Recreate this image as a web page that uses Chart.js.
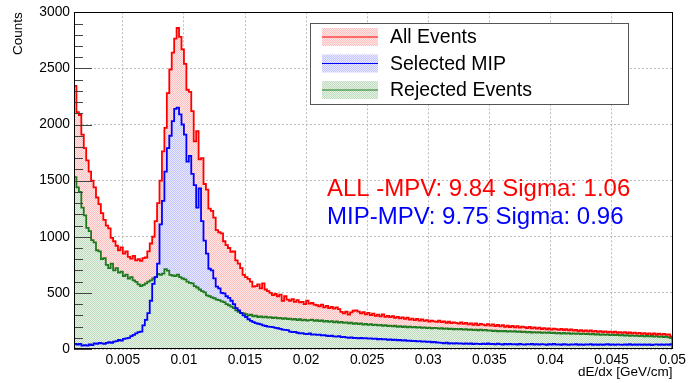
<!DOCTYPE html>
<html>
<head>
<meta charset="utf-8">
<title>dE/dx</title>
<script src="https://cdn.jsdelivr.net/npm/chart.js@4.4.1/dist/chart.umd.min.js"></script>
<style>
    html, body { margin: 0; padding: 0; background: #fff; }
    #wrap { width: 689px; height: 383px; }
</style>
</head>
<body>
<div id="wrap"><canvas id="dedxChart" width="689" height="383"></canvas></div>
<script>
// Histogram binning (dE/dx in GeV/cm)
const xMin = 0.001;
const xMax = 0.05;
const binWidth = 0.0002;

// Counts per bin
const allEvents = [
    2345, 2110, 2085, 1910, 1790, 1680, 1580, 1500, 1440, 1350,
    1290, 1210, 1150, 1100, 1075, 990, 960, 920, 880, 905,
    850, 870, 820, 805, 830, 790, 800, 785, 810, 815,
    870, 940, 1000, 1140, 1300, 1500, 1760, 1970, 2280, 2490,
    2640, 2765, 2860, 2780, 2670, 2540, 2310, 2290, 2120, 1850,
    1940, 1690, 1700, 1470, 1420, 1250, 1230, 1170, 1060, 1040,
    1030, 960, 925, 900, 865, 870, 790, 760, 720, 660,
    640, 625, 600, 555, 560, 575, 540, 585, 530, 515,
    500, 480, 490, 470, 485, 430, 470, 440, 430, 445,
    420, 435, 415, 420, 400, 430, 405, 410, 395, 390,
    380, 395, 370, 385, 365, 375, 360, 370, 355, 330,
    318, 332, 306, 326, 341, 344, 333, 318, 329, 309,
    322, 301, 316, 296, 307, 291, 309, 287, 296, 284,
    292, 277, 287, 272, 281, 268, 279, 262, 271, 258,
    268, 253, 264, 250, 258, 244, 252, 247, 241, 252,
    239, 247, 234, 243, 230, 238, 232, 226, 236, 223,
    233, 220, 229, 216, 227, 212, 224, 218, 210, 222,
    208, 219, 205, 214, 202, 212, 198, 207, 196, 205,
    193, 203, 190, 199, 194, 186, 197, 184, 192, 181,
    190, 178, 186, 176, 184, 173, 181, 176, 170, 179,
    168, 176, 166, 174, 163, 171, 160, 168, 158, 166,
    157, 165, 154, 161, 152, 159, 150, 157, 149, 155,
    147, 154, 145, 151, 143, 150, 141, 147, 139, 146,
    137, 144, 135, 141, 133, 140, 131, 138, 129, 136,
    128, 134, 127, 131, 112
];

const selectedMip = [
    45, 40, 45, 30, 35, 30, 40, 35, 50, 45,
    55, 50, 45, 55, 60, 55, 65, 70, 80, 75,
    90, 95, 100, 115, 125, 140, 150, 155, 210, 260,
    320, 430, 580, 640, 760, 1110, 1320, 1580, 1790, 1900,
    2030, 2140, 2150, 2090, 2000, 1910, 1670, 1720, 1560, 1460,
    1260, 1430, 1140, 965, 850, 715, 700, 630, 555, 540,
    500, 495, 470, 455, 430, 400, 365, 345, 320, 300,
    285, 265, 250, 240, 230, 225, 220, 210, 205, 200,
    198, 195, 188, 185, 180, 172, 170, 168, 155, 150,
    152, 145, 140, 142, 135, 132, 138, 128, 130, 125,
    128, 122, 124, 118, 115, 118, 112, 110, 114, 106,
    108, 104, 100, 103, 98, 100, 95, 98, 94, 96,
    92, 95, 90, 92, 87, 90, 85, 88, 82, 85,
    80, 83, 78, 80, 75, 78, 72, 75, 70, 73,
    68, 71, 66, 68, 63, 66, 60, 63, 58, 56,
    55, 51, 56, 49, 53, 48, 52, 47, 51, 46,
    50, 45, 49, 44, 48, 46, 43, 47, 44, 49,
    43, 46, 42, 47, 44, 40, 45, 42, 46, 41,
    44, 40, 45, 42, 39, 44, 41, 46, 40, 43,
    39, 44, 41, 38, 43, 40, 45, 39, 42, 38,
    43, 40, 37, 42, 39, 44, 38, 41, 37, 42,
    39, 43, 37, 41, 38, 42, 36, 40, 43, 38,
    41, 37, 42, 39, 36, 41, 38, 43, 37, 40,
    38, 42, 36, 40, 37, 41, 35, 39, 42, 37,
    40, 36, 41, 38, 44
];

const rejectedEvents = [
    1530, 1440, 1400, 1260, 1190, 1080, 1050, 970, 950, 880,
    870, 800, 810, 750, 720, 760, 700, 720, 680, 690,
    650, 662, 628, 640, 612, 598, 575, 560, 572, 584,
    600, 612, 628, 640, 668, 660, 672, 712, 698, 660,
    655, 650, 662, 640, 628, 620, 600, 590, 585, 560,
    548, 530, 515, 505, 478, 470, 460, 452, 440, 435,
    425, 418, 400, 390, 378, 365, 345, 332, 322, 318,
    310, 300, 305, 292, 298, 285, 290, 282, 288, 280,
    284, 276, 282, 272, 278, 268, 275, 266, 270, 262,
    268, 258, 265, 255, 262, 252, 258, 262, 250, 256,
    248, 254, 244, 250, 242, 248, 238, 245, 236, 242,
    232, 238, 228, 235, 225, 230, 222, 228, 218, 224,
    215, 221, 212, 218, 210, 215, 207, 212, 204, 209,
    201, 207, 198, 204, 196, 201, 194, 199, 192, 197,
    190, 195, 188, 193, 186, 191, 184, 189, 186, 182,
    185, 180, 184, 178, 182, 176, 180, 174, 178, 172,
    177, 171, 175, 169, 173, 167, 172, 166, 170, 164,
    166, 160, 164, 158, 162, 157, 161, 155, 159, 154,
    158, 152, 156, 150, 155, 149, 153, 147, 151, 146,
    150, 144, 148, 143, 147, 141, 145, 140, 144, 138,
    143, 137, 141, 136, 140, 134, 139, 133, 137, 132,
    136, 130, 134, 129, 133, 127, 131, 126, 130, 124,
    128, 123, 127, 121, 125, 120, 124, 118, 122, 117,
    120, 115, 119, 113, 117, 112, 116, 110, 114, 108,
    112, 107, 110, 104, 96
];

const seriesNames = ['All Events', 'Selected MIP', 'Rejected Events'];
const xTicks = [0.005, 0.01, 0.015, 0.02, 0.025, 0.03, 0.035, 0.04, 0.045, 0.05];
const xTickLabels = ['0.005', '0.01', '0.015', '0.02', '0.025', '0.03', '0.035', '0.04', '0.045', '0.05'];
const yTicks = [0, 500, 1000, 1500, 2000, 2500, 3000];
const yTickLabels = ['0', '500', '1000', '1500', '2000', '2500', '3000'];
const yMinorStep = 100;
const fitText = ['ALL -MPV: 9.84 Sigma: 1.06', 'MIP-MPV: 9.75 Sigma: 0.96'];

// Colours
const colors = {
    red: '#ff0000',
    blue: '#0000ff',
    green: '#1f7a1f'
};
const FONT = '"Liberation Sans", Arial, Helvetica, sans-serif';

Chart.defaults.font.family = FONT;
Chart.defaults.color = '#000';

// small checker tile, like ROOT's dotted fill style
function checker(dark, light) {
    const c = document.createElement('canvas');
    c.width = 2;
    c.height = 2;
    const g = c.getContext('2d');
    g.fillStyle = light;
    g.fillRect(0, 0, 2, 2);
    g.fillStyle = dark;
    g.fillRect(0, 0, 1, 1);
    g.fillRect(1, 1, 1, 1);
    return g.createPattern(c, 'repeat');
}

const fillPatterns = {
    red: checker('#ffc0c0', '#ffe6e6'),
    blue: checker('#c4c4ff', '#e8e8ff'),
    green: checker('#bfdcbf', '#e6f1e6')
};

// Turn bin contents into step points (left edge of every bin)
function histPoints(counts) {
    const pts = [{ x: xMin, y: 0 }];
    counts.forEach((c, i) => pts.push({ x: xMin + i * binWidth, y: c }));
    const end = xMin + counts.length * binWidth;
    pts.push({ x: end, y: counts[counts.length - 1] });
    pts.push({ x: end, y: 0 });
    return pts;
}

function fillSet(counts, fill, order) {
    return {
        data: histPoints(counts),
        stepped: true,
        borderWidth: 0,
        pointRadius: 0,
        backgroundColor: fill,
        fill: 'origin',
        order: order
    };
}

function lineSet(label, counts, color, order) {
    return {
        label: label,
        data: histPoints(counts),
        stepped: true,
        borderColor: color,
        borderWidth: 1.8,
        pointRadius: 0,
        fill: false,
        order: order
    };
}

// ROOT-like decorations: inner ticks, frame, legend box, fit results
const rootDecor = {
    id: 'rootDecor',
    afterDatasetsDraw(chart) {
        const { ctx, chartArea: a, scales: { y } } = chart;
        ctx.save();

        ctx.strokeStyle = '#444';
        ctx.lineWidth = 1;
        for (let v = 0; v <= y.max; v += yMinorStep) {
            const py = Math.round(y.getPixelForValue(v)) + 0.5;
            const len = v % 500 === 0 ? 18 : 9;
            ctx.beginPath();
            ctx.moveTo(a.left, py);
            ctx.lineTo(a.left + len, py);
            ctx.stroke();
        }

        ctx.strokeStyle = '#000';
        ctx.strokeRect(Math.round(a.left) + 0.5, Math.round(a.top) + 0.5,
            Math.round(a.right - a.left) - 1, Math.round(a.bottom - a.top) - 1);

        // legend
        const lx = 310.5, ly = 23.5, lw = 318, lh = 81;
        ctx.fillStyle = '#fff';
        ctx.fillRect(lx, ly, lw, lh);
        ctx.strokeStyle = '#555';
        ctx.strokeRect(lx, ly, lw, lh);
        const fills = [fillPatterns.red, fillPatterns.blue, fillPatterns.green];
        const lines = [colors.red, colors.blue, colors.green];
        ctx.font = '19.5px ' + FONT;
        ctx.textBaseline = 'middle';
        seriesNames.forEach((name, i) => {
            const cy = 37 + i * 26.5;
            ctx.fillStyle = fills[i];
            ctx.fillRect(322, cy - 9, 56, 18);
            ctx.strokeStyle = lines[i];
            ctx.lineWidth = 1.2;
            ctx.beginPath();
            ctx.moveTo(322, cy);
            ctx.lineTo(378, cy);
            ctx.stroke();
            ctx.fillStyle = '#000';
            ctx.fillText(name, 390, cy + 1);
        });

        // fit results
        ctx.font = '24px ' + FONT;
        ctx.textBaseline = 'alphabetic';
        ctx.fillStyle = colors.red;
        ctx.fillText(fitText[0], 327, 196);
        ctx.fillStyle = colors.blue;
        ctx.fillText(fitText[1], 327, 224);

        ctx.restore();
    }
};

const gridOpts = { color: '#bdbdbd', lineWidth: 1, drawTicks: false };
const tickFont = { size: 13.8 };

new Chart(document.getElementById('dedxChart'), {
    type: 'line',
    data: {
        datasets: [
            fillSet(allEvents, fillPatterns.red, 6),
            fillSet(selectedMip, fillPatterns.blue, 5),
            fillSet(rejectedEvents, fillPatterns.green, 4),
            lineSet(seriesNames[2], rejectedEvents, colors.green, 3),
            lineSet(seriesNames[1], selectedMip, colors.blue, 2),
            lineSet(seriesNames[0], allEvents, colors.red, 1)
        ]
    },
    options: {
        responsive: false,
        animation: false,
        devicePixelRatio: 1,
        layout: {
            autoPadding: false,
            padding: { top: 10, right: 11.3, left: 0, bottom: 0 }
        },
        plugins: {
            legend: { display: false },
            tooltip: { enabled: false }
        },
        scales: {
            x: {
                type: 'linear',
                min: xMin,
                max: xMax,
                afterBuildTicks: s => { s.ticks = xTicks.map(v => ({ value: v })); },
                afterFit: s => { s.height = 34; },
                ticks: {
                    font: tickFont,
                    padding: 3,
                    maxRotation: 0,
                    autoSkip: false,
                    callback: (v, i) => xTickLabels[i]
                },
                grid: gridOpts,
                border: { display: false, dash: [2, 2] },
                title: {
                    display: true,
                    text: 'dE/dx [GeV/cm]',
                    align: 'end',
                    font: { size: 13.5 },
                    padding: { top: 0, bottom: 3 }
                }
            },
            y: {
                min: 0,
                max: 3000,
                afterBuildTicks: s => { s.ticks = yTicks.map(v => ({ value: v })); },
                afterFit: s => { s.width = 74; },
                ticks: {
                    font: tickFont,
                    padding: 4,
                    callback: (v, i) => yTickLabels[i]
                },
                grid: gridOpts,
                border: { display: false, dash: [2, 2] },
                title: {
                    display: true,
                    text: 'Counts',
                    align: 'end',
                    font: { size: 13.5 },
                    padding: { top: 10, bottom: 0 }
                }
            }
        }
    },
    plugins: [rootDecor]
});
</script>
</body>
</html>
